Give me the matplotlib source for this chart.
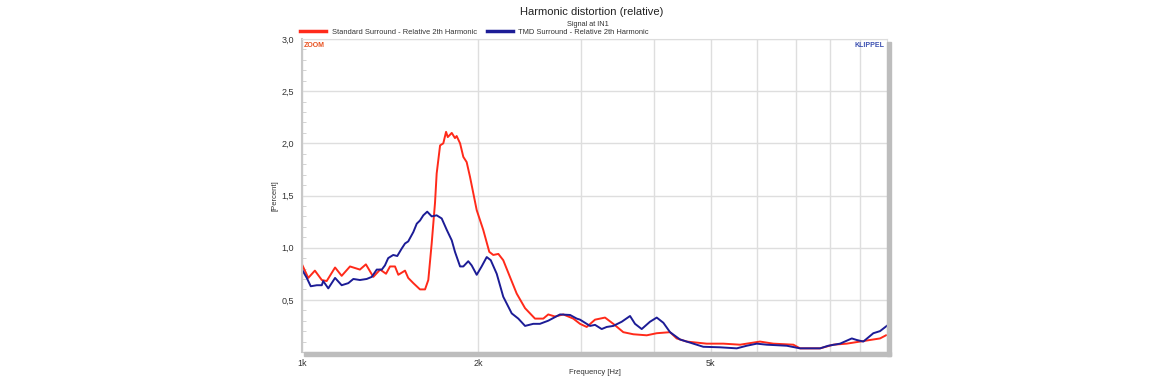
import matplotlib.pyplot as plt
import matplotlib.ticker as ticker
from matplotlib.patches import Rectangle
import numpy as np

# Standard surround - relative 2nd harmonic (frequency Hz, percent)
std_freq = [1000, 1025, 1052, 1081, 1102, 1139, 1169, 1208, 1256, 1286, 1324, 1360,
            1392, 1414, 1442, 1461, 1500, 1519, 1550, 1591, 1623, 1644, 1666, 1688,
            1699, 1722, 1744, 1763, 1775, 1803, 1826, 1838, 1863, 1887, 1912, 1937,
            1958, 1989, 2041, 2090, 2123, 2166, 2208, 2267, 2328, 2406, 2502, 2585,
            2636, 2707, 2797, 2909, 2987, 3067, 3169, 3296, 3405, 3542, 3684, 3884,
            4040, 4257, 4370, 4546, 4918, 5251, 5608, 6066, 6392, 6917, 7102, 7685,
            8093, 8532, 8991, 9352, 9728, 9960]
std_pct = [0.84, 0.71, 0.78, 0.69, 0.68, 0.81, 0.73, 0.82, 0.79, 0.84, 0.72, 0.79,
           0.75, 0.82, 0.82, 0.74, 0.78, 0.71, 0.66, 0.60, 0.60, 0.69, 1.04, 1.43,
           1.71, 1.98, 2.00, 2.11, 2.06, 2.10, 2.05, 2.07, 2.00, 1.87, 1.82, 1.68,
           1.55, 1.36, 1.17, 0.96, 0.93, 0.94, 0.88, 0.72, 0.56, 0.42, 0.32, 0.32,
           0.36, 0.34, 0.36, 0.32, 0.27, 0.24, 0.31, 0.33, 0.27, 0.19, 0.17, 0.16,
           0.18, 0.19, 0.13, 0.10, 0.08, 0.08, 0.07, 0.10, 0.08, 0.07, 0.035, 0.035,
           0.07, 0.08, 0.10, 0.115, 0.13, 0.16]

# TMD surround - relative 2nd harmonic
tmd_freq = [1000, 1019, 1035, 1060, 1081, 1087, 1109, 1139, 1169, 1200, 1224, 1256,
            1290, 1316, 1342, 1369, 1386, 1404, 1432, 1455, 1480, 1500, 1519, 1550,
            1571, 1591, 1612, 1637, 1666, 1699, 1733, 1768, 1803, 1826, 1863, 1887,
            1924, 1950, 1989, 2028, 2069, 2102, 2152, 2208, 2283, 2343, 2406, 2485,
            2551, 2636, 2761, 2872, 2949, 2987, 3107, 3169, 3253, 3318, 3405, 3520,
            3637, 3709, 3808, 3934, 4040, 4147, 4257, 4428, 4666, 4853, 5182, 5536,
            5758, 5989, 6230, 6739, 7102, 7685, 7937, 8314, 8706, 8878, 9111, 9476,
            9728, 9990]
tmd_pct = [0.79, 0.71, 0.63, 0.64, 0.64, 0.68, 0.61, 0.71, 0.64, 0.66, 0.70, 0.69,
           0.70, 0.72, 0.79, 0.79, 0.83, 0.90, 0.93, 0.92, 0.99, 1.04, 1.06, 1.15,
           1.23, 1.26, 1.31, 1.345, 1.30, 1.31, 1.28, 1.17, 1.07, 0.96, 0.82, 0.82,
           0.87, 0.83, 0.74, 0.82, 0.91, 0.88, 0.75, 0.53, 0.37, 0.32, 0.25, 0.27,
           0.27, 0.30, 0.36, 0.355, 0.32, 0.31, 0.25, 0.26, 0.22, 0.24, 0.25, 0.29,
           0.345, 0.27, 0.22, 0.29, 0.33, 0.28, 0.19, 0.12, 0.08, 0.05, 0.045, 0.035,
           0.06, 0.08, 0.07, 0.06, 0.035, 0.035, 0.06, 0.08, 0.13, 0.115, 0.10, 0.18,
           0.20, 0.25]

x_ticks = [1000, 2000, 5000]
x_tick_labels = ["1k", "2k", "5k"]
y_ticks = [0.5, 1.0, 1.5, 2.0, 2.5, 3.0]
y_tick_labels = ["0,5", "1,0", "1,5", "2,0", "2,5", "3,0"]

red = "#ff2a1a"
blue = "#1c1c96"

plt.rcParams['font.family'] = ['Liberation Sans', 'DejaVu Sans']

fig = plt.figure(figsize=(11.7, 3.8), dpi=100)
ax = fig.add_axes([302 / 1170, 1 - 352 / 380, 585 / 1170, 313 / 380])

# drop shadow right and bottom of the plot frame
fig.patches.append(Rectangle((304 / 1170, 1 - 356 / 380), 587 / 1170, 4 / 380,
                             transform=fig.transFigure, color="#bdbdbd", zorder=0))
fig.patches.append(Rectangle((887 / 1170, 1 - 356 / 380), 4 / 1170, 314 / 380,
                             transform=fig.transFigure, color="#bdbdbd", zorder=0))

ax.plot(std_freq, std_pct, color=red, lw=1.4, label="Standard Surround - Relative 2th Harmonic")
ax.plot(tmd_freq, tmd_pct, color=blue, lw=1.4, label="TMD Surround - Relative 2th Harmonic")

ax.set_xscale("log")
ax.set_xlim(1000, 10000)
ax.set_ylim(0, 3.0)

ax.xaxis.set_major_locator(ticker.FixedLocator(x_ticks))
ax.xaxis.set_major_formatter(ticker.FixedFormatter(x_tick_labels))
ax.xaxis.set_minor_locator(ticker.FixedLocator([3000, 4000, 6000, 7000, 8000, 9000]))
ax.xaxis.set_minor_formatter(ticker.NullFormatter())
ax.set_yticks(y_ticks)
ax.set_yticklabels(y_tick_labels)
ax.yaxis.set_minor_locator(ticker.MultipleLocator(0.1))

ax.grid(True, which="major", color="#dedede", lw=1)
ax.grid(True, which="minor", axis="x", color="#dedede", lw=1)
ax.tick_params(axis="both", which="both", length=0, labelsize=6.5, colors="#333333")
ax.tick_params(axis="x", which="major", pad=5)
ax.tick_params(axis="y", which="minor", length=3, direction="in", color="#cccccc")
ax.tick_params(axis="y", which="major", pad=6)

for side in ["top", "right"]:
    ax.spines[side].set_color("#dddddd")
ax.spines["left"].set_color("#c8c8c8")
ax.spines["left"].set_linewidth(1.5)
ax.spines["bottom"].set_color("#c8c8c8")

ax.set_xlabel("Frequency [Hz]", fontsize=5.5, color="#333333", labelpad=1)
ax.set_ylabel("[Percent]", fontsize=5.5, color="#333333", labelpad=2)

ax.text(0.003, 0.99, "ZOOM", transform=ax.transAxes, fontsize=5, color="#e8501e",
        fontweight="bold", va="top", ha="left")
ax.text(0.996, 0.99, "KLIPPEL", transform=ax.transAxes, fontsize=5, color="#3a4fb0",
        fontweight="bold", va="top", ha="right")

fig.text(592 / 1170, 1 - 12 / 380, "Harmonic distortion (relative)", fontsize=8,
         ha="center", va="center", color="#222222")
fig.text(588 / 1170, 1 - 24 / 380, "Signal at IN1", fontsize=5.3, ha="center",
         va="center", color="#333333")

fig.legend(loc="center left", bbox_to_anchor=(300 / 1170, 1 - 32 / 380), ncol=2,
           frameon=False, fontsize=5.4, handlelength=3.4, columnspacing=1.4,
           handletextpad=0.8, borderpad=0, borderaxespad=0, labelcolor="#333333")
for line in fig.legends[0].get_lines():
    line.set_linewidth(2.5)

fig.savefig("out.png", dpi=100)
